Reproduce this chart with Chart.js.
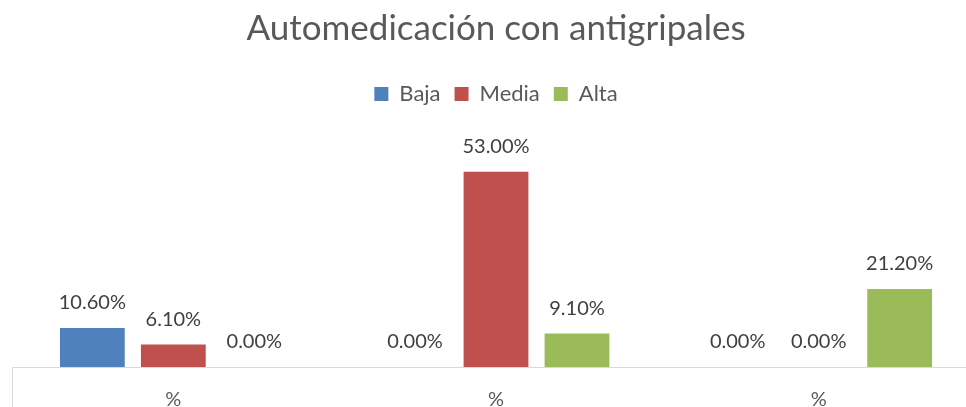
<!DOCTYPE html>
<html lang="es">
<head>
<meta charset="UTF-8">
<title>Automedicación con antigripales</title>
<script src="https://cdn.jsdelivr.net/npm/chart.js"></script>
<style>
	body, html {
		margin: 0;
		padding: 0;
		background: #ffffff;
		overflow: hidden;
	}
	/* the original chart is wider and taller than the picture, so it is cut */
	.frame {
		width: 966px;
		height: 407px;
		overflow: hidden;
	}
</style>
</head>
<body>
<div class="frame">
	<canvas id="chart" width="992" height="435"></canvas>
</div>
<script>
	// data
	const categories = ['%', '%', '%'];
	const seriesNames = ['Baja', 'Media', 'Alta'];
	const baja = [10.6, 0, 0];
	const media = [6.1, 53, 0];
	const alta = [0, 9.1, 21.2];
	const yMax = 60;

	const colors = ['#4F81BD', '#C0504D', '#9BBB59'];
	const fontName = 'Lato, "Open Sans", sans-serif';

	// value labels above each bar
	const valueLabels = {
		id: 'valueLabels',
		afterDatasetsDraw(chart) {
			const ctx = chart.ctx;
			ctx.save();
			ctx.font = '20px ' + fontName;
			ctx.fillStyle = '#404040';
			ctx.textAlign = 'center';
			ctx.textBaseline = 'middle';
			chart.data.datasets.forEach((ds, i) => {
				chart.getDatasetMeta(i).data.forEach((bar, j) => {
					ctx.fillText(ds.data[j].toFixed(2) + '%', bar.x, bar.y - 25);
				});
			});
			ctx.restore();
		}
	};

	// small vertical line under the left end of the axis
	const leftEdge = {
		id: 'leftEdge',
		afterDraw(chart) {
			const ctx = chart.ctx;
			const a = chart.chartArea;
			ctx.save();
			ctx.strokeStyle = '#D9D9D9';
			ctx.lineWidth = 1;
			ctx.beginPath();
			ctx.moveTo(Math.round(a.left) + 0.5, a.bottom);
			ctx.lineTo(Math.round(a.left) + 0.5, chart.height);
			ctx.stroke();
			ctx.restore();
		}
	};

	// extra room between the legend and the plot
	const legendGap = {
		id: 'legendGap',
		beforeInit(chart) {
			const fit = chart.legend.fit;
			chart.legend.fit = function () {
				fit.bind(chart.legend)();
				this.height += 31;
			};
		}
	};

	new Chart(document.getElementById('chart').getContext('2d'), {
		type: 'bar',
		data: {
			labels: categories,
			datasets: [
				{ label: seriesNames[0], data: baja, backgroundColor: colors[0] },
				{ label: seriesNames[1], data: media, backgroundColor: colors[1] },
				{ label: seriesNames[2], data: alta, backgroundColor: colors[2] }
			]
		},
		options: {
			responsive: false,
			animation: false,
			categoryPercentage: 0.753,
			barPercentage: 0.8,
			layout: {
				padding: { left: 12, right: 12, top: 0, bottom: 2 }
			},
			plugins: {
				title: {
					display: true,
					text: 'Automedicación con antigripales',
					color: '#595959',
					font: { family: fontName, size: 35, weight: 'normal' },
					padding: { top: 8, bottom: 19 }
				},
				legend: {
					display: true,
					labels: {
						color: '#595959',
						font: { family: fontName, size: 22 },
						boxWidth: 14,
						boxHeight: 14,
						padding: 14
					}
				},
				tooltip: { enabled: false }
			},
			scales: {
				x: {
					grid: { display: true, drawOnChartArea: false, drawTicks: false, color: 'transparent' },
					border: { display: true, color: '#D9D9D9', width: 1 },
					ticks: {
						color: '#595959',
						font: { family: fontName, size: 20 },
						padding: 21
					}
				},
				y: {
					display: false,
					min: 0,
					max: yMax
				}
			}
		},
		plugins: [valueLabels, leftEdge, legendGap]
	});
</script>
</body>
</html>
